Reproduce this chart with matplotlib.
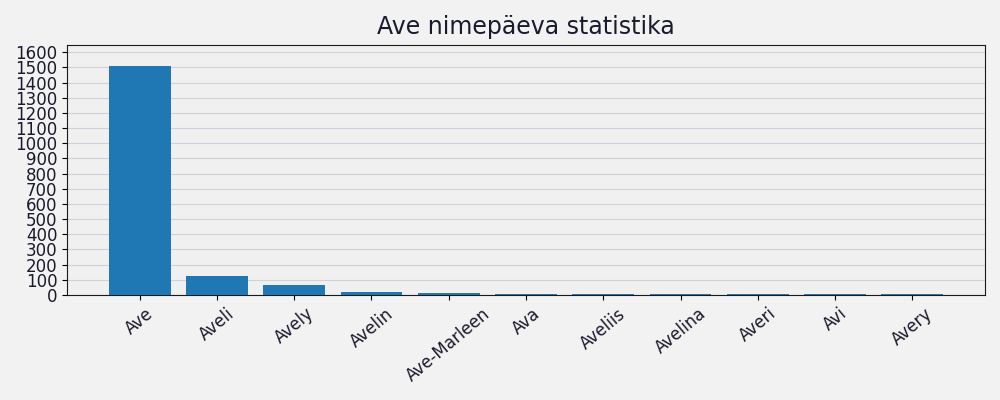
import matplotlib
matplotlib.use("Agg")
import matplotlib.pyplot as plt
import numpy as np

names = ["Ave", "Aveli", "Avely", "Avelin", "Ave-Marleen", "Ava", "Aveliis", "Avelina", "Averi", "Avi", "Avery"]
counts = [1512, 127, 68, 20, 13, 7, 6, 6, 6, 6, 6]
yticks = list(range(0, 1700, 100))

fig = plt.figure(figsize=(10, 4), dpi=100, facecolor="#f2f2f2")
ax = fig.add_axes([0.067, 0.2625, 0.918, 0.624])
ax.set_facecolor("#f0f0f0")
x = np.arange(len(names))
ax.bar(x, counts, width=0.8, color="#1f77b4", zorder=3)
ax.set_xticks(x)
ax.set_xticklabels(names, rotation=40, ha="center", fontsize=12, color="#1a1a2e")
ax.set_yticks(yticks)
ax.set_yticklabels([str(v) for v in yticks], fontsize=12, color="#1a1a2e")
ax.set_ylim(0, 1645)
ax.grid(axis="y", color="#d0d0d8", linewidth=0.8, zorder=0)
ax.set_axisbelow(True)
ax.set_title("Ave nimepäeva statistika", fontsize=17, color="#1a1a2e", pad=8)
for s in ax.spines.values():
    s.set_color("#1a1a1a")
fig.savefig("out.png", dpi=100, facecolor=fig.get_facecolor())
